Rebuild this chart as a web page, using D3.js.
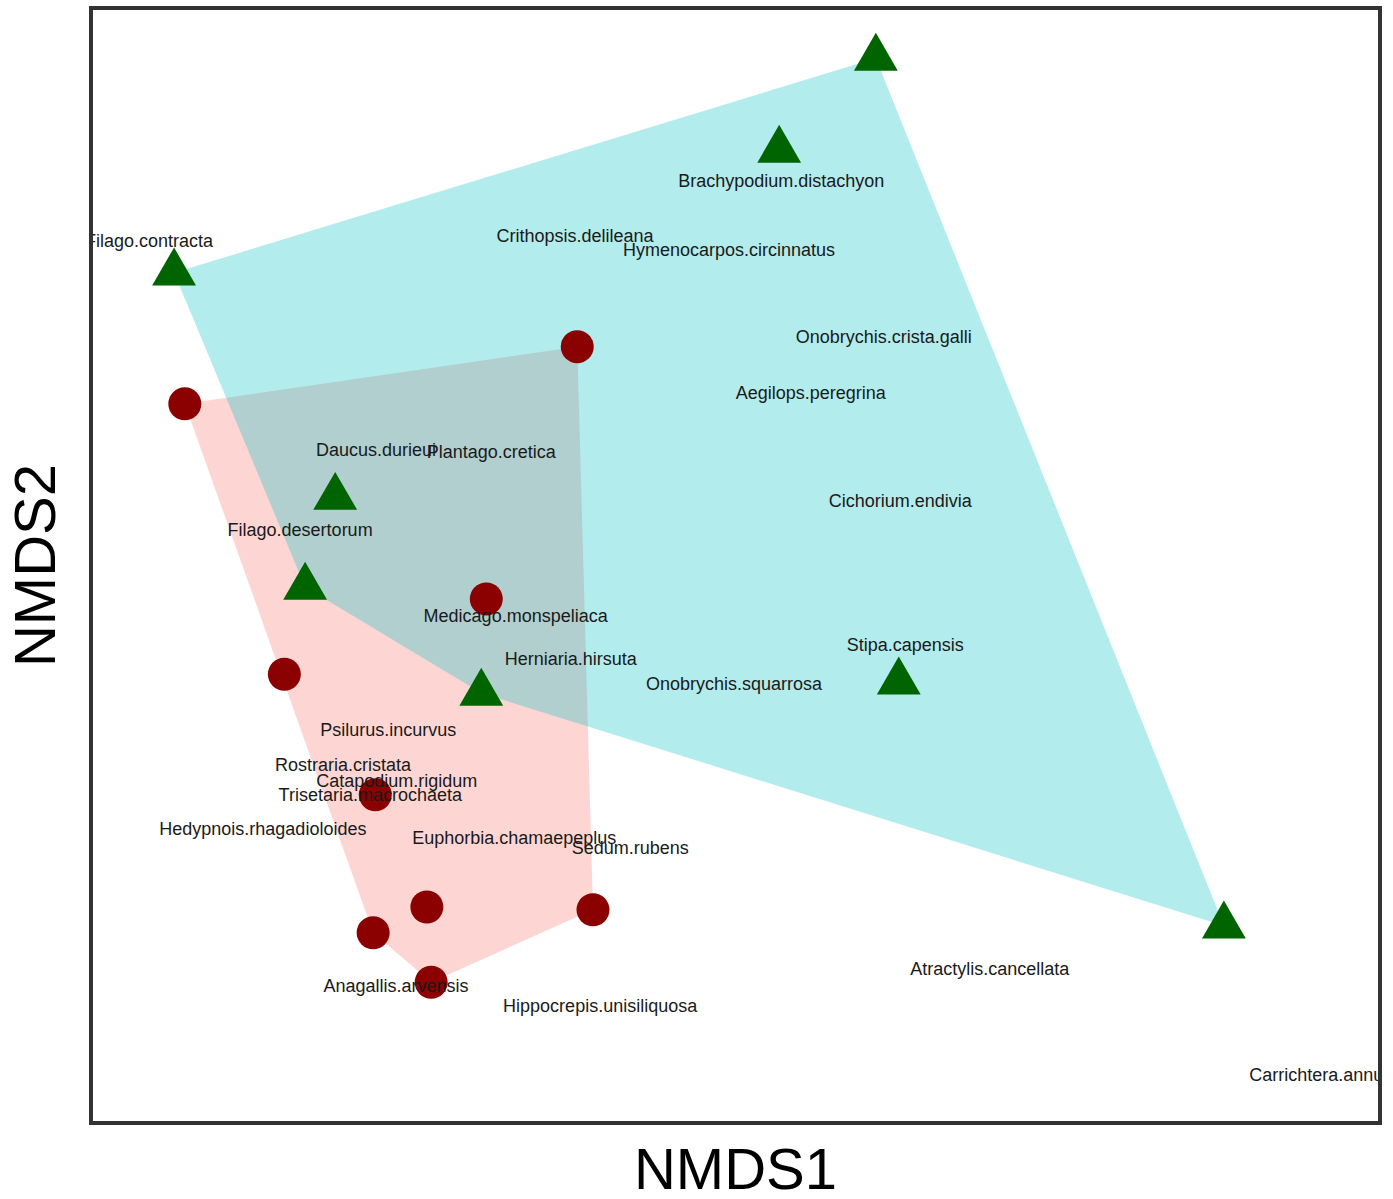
<!DOCTYPE html>
<html>
<head>
<meta charset="utf-8">
<script src="https://cdn.jsdelivr.net/npm/d3@7"></script>
<style>
  html, body { margin: 0; padding: 0; background: #fff; }
  svg { display: block; }
</style>
</head>
<body>
<svg id="chart" width="1393" height="1199"></svg>
<script>
// ---- Data (NMDS scores) ----
// Site scores, group A (triangles)
const groupA_x = [0.296, 0.161, -0.684, -0.459, -0.501, -0.255, 0.328, 0.782];
const groupA_y = [0.628, 0.496, 0.320, -0.002, -0.131, -0.283, -0.267, -0.617];
// Site scores, group B (circles)
const groupB_x = [-0.121, -0.669, -0.248, -0.530, -0.403, -0.331, -0.406, -0.099, -0.325];
const groupB_y = [0.214, 0.132, -0.148, -0.256, -0.429, -0.590, -0.627, -0.594, -0.698];
// Species scores (labels)
const speciesNames = [
  "Filago.contracta", "Brachypodium.distachyon", "Crithopsis.delileana", "Hymenocarpos.circinnatus",
  "Onobrychis.crista.galli", "Aegilops.peregrina", "Daucus.durieui", "Plantago.cretica",
  "Cichorium.endivia", "Filago.desertorum", "Medicago.monspeliaca", "Herniaria.hirsuta",
  "Stipa.capensis", "Onobrychis.squarrosa", "Psilurus.incurvus", "Rostraria.cristata",
  "Catapodium.rigidum", "Trisetaria.macrochaeta", "Hedypnois.rhagadioloides", "Euphorbia.chamaepeplus",
  "Sedum.rubens", "Anagallis.arvensis", "Hippocrepis.unisiliquosa", "Atractylis.cancellata",
  "Carrichtera.annua"
];
const speciesX = [-0.719, 0.164, -0.124, 0.091, 0.307, 0.205, -0.402, -0.241, 0.330, -0.508, -0.207, -0.130,
  0.337, 0.098, -0.385, -0.448, -0.373, -0.410, -0.560, -0.209, -0.047, -0.374, -0.089, 0.455, 0.918];
const speciesY = [0.367, 0.453, 0.373, 0.354, 0.228, 0.148, 0.066, 0.064, -0.007, -0.049, -0.172, -0.234,
  -0.214, -0.270, -0.335, -0.385, -0.409, -0.429, -0.478, -0.491, -0.504, -0.703, -0.732, -0.678, -0.830];
const xDomain = [-0.8, 1.0];
const yDomain = [-0.9, 0.7];
const axisTitles = ["NMDS1", "NMDS2"];

// ---- Layout ----
const panel = { left: 91, right: 1380, top: 8, bottom: 1123 };
const svg = d3.select("#chart");
const x = d3.scaleLinear().domain(xDomain).range([panel.left, panel.right]);
const y = d3.scaleLinear().domain(yDomain).range([panel.bottom, panel.top]);

svg.append("defs").append("clipPath").attr("id", "panelClip")
  .append("rect")
  .attr("x", panel.left).attr("y", panel.top)
  .attr("width", panel.right - panel.left).attr("height", panel.bottom - panel.top);

const g = svg.append("g").attr("clip-path", "url(#panelClip)");

const ptsA = groupA_x.map((v, i) => [x(v), y(groupA_y[i])]);
const ptsB = groupB_x.map((v, i) => [x(v), y(groupB_y[i])]);

// Hulls: circles group first, then triangles group
const hullB = d3.polygonHull(ptsB);
const hullA = d3.polygonHull(ptsA);
g.append("path").attr("d", "M" + hullB.join("L") + "Z")
  .attr("fill", "#F8766D").attr("fill-opacity", 0.3);
g.append("path").attr("d", "M" + hullA.join("L") + "Z")
  .attr("fill", "#00BFC4").attr("fill-opacity", 0.3);

// Points
const tri = d3.symbol().type(d3.symbolTriangle).size(832);
g.selectAll("path.tri").data(ptsA).join("path")
  .attr("class", "tri")
  .attr("d", tri)
  .attr("transform", d => `translate(${d[0]},${d[1]})`)
  .attr("fill", "#006400");
g.selectAll("circle.dot").data(ptsB).join("circle")
  .attr("class", "dot")
  .attr("cx", d => d[0]).attr("cy", d => d[1]).attr("r", 16.5)
  .attr("fill", "#8B0000");

// Species labels
g.selectAll("text.sp").data(speciesNames).join("text")
  .attr("class", "sp")
  .attr("x", (d, i) => x(speciesX[i]))
  .attr("y", (d, i) => y(speciesY[i]))
  .attr("dy", "0.36em")
  .attr("text-anchor", "middle")
  .attr("font-family", "'Liberation Sans', Arial, sans-serif")
  .attr("font-size", 18)
  .attr("fill", "#1a1a1a")
  .text(d => d);

// Panel border
svg.append("rect")
  .attr("x", panel.left).attr("y", panel.top)
  .attr("width", panel.right - panel.left).attr("height", panel.bottom - panel.top)
  .attr("fill", "none").attr("stroke", "#333").attr("stroke-width", 4);

// Axis titles
svg.append("text")
  .attr("x", (panel.left + panel.right) / 2).attr("y", 1189)
  .attr("text-anchor", "middle")
  .attr("font-family", "'Liberation Sans', Arial, sans-serif")
  .attr("font-size", 58).attr("fill", "#000")
  .text(axisTitles[0]);
svg.append("text")
  .attr("transform", `translate(55,${(panel.top + panel.bottom) / 2}) rotate(-90)`)
  .attr("text-anchor", "middle")
  .attr("font-family", "'Liberation Sans', Arial, sans-serif")
  .attr("font-size", 58).attr("fill", "#000")
  .text(axisTitles[1]);
</script>
</body>
</html>
